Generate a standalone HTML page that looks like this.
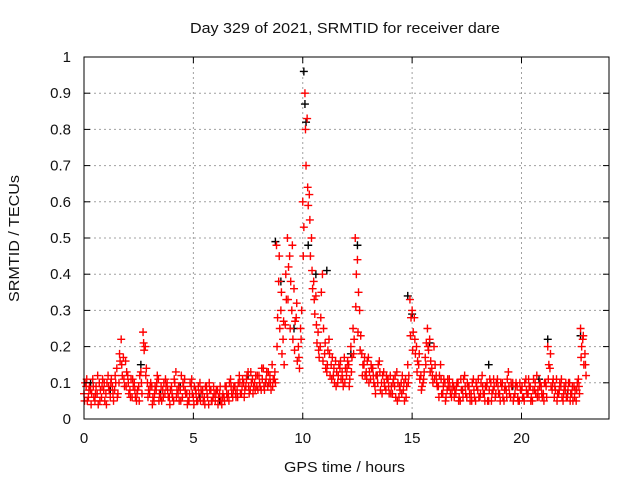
<!DOCTYPE html>
<html><head><meta charset="utf-8"><style>
body{margin:0;background:#fff}
svg text{font-family:"Liberation Sans",sans-serif;fill:#111}
</style></head><body>
<svg id="c" width="640" height="480" xmlns="http://www.w3.org/2000/svg">
<text x="190" y="33" font-size="15" textLength="310" lengthAdjust="spacingAndGlyphs">Day 329 of 2021, SRMTID for receiver dare</text>
<text x="284" y="472" font-size="15" textLength="121" lengthAdjust="spacingAndGlyphs">GPS time / hours</text>
<text transform="translate(19,302) rotate(-90)" font-size="15" textLength="127" lengthAdjust="spacingAndGlyphs">SRMTID / TECUs</text>
<g id="grid"></g><g id="marks"></g><g id="axes"></g>
</svg>
<script>
const xTicks=[0,5,10,15,20];
const yTicks=[0,0.1,0.2,0.3,0.4,0.5,0.6,0.7,0.8,0.9,1];
const yTickLabels=["0","0.1","0.2","0.3","0.4","0.5","0.6","0.7","0.8","0.9","1"];
const redStep=0.1;
const redValues=[.07,.09,.06,.08,.11,.05,.07,.10,.06,.08,
.07,.12,.06,.09,.08,.14,.10,.22,.17,.16,
.12,.08,.06,.10,.05,.09,.13,.24,.20,.10,
.07,.09,.05,.08,.11,.06,.08,.07,.10,.06,
.09,.05,.13,.07,.08,.06,.11,.07,.05,.09,
.06,.08,.05,.10,.07,.06,.09,.04,.08,.06,
.05,.08,.07,.04,.06,.09,.07,.11,.06,.09,
.08,.12,.07,.10,.09,.13,.08,.11,.10,.09,
.12,.08,.14,.10,.09,.12,.15,.11,.48,.38,
.30,.22,.26,.50,.45,.30,.36,.28,.20,.25,
.60,.90,.83,.62,.50,.38,.34,.24,.20,.40,
.18,.13,.22,.15,.12,.16,.10,.14,.13,.17,
.12,.15,.20,.25,.50,.44,.30,.18,.15,.13,
.17,.11,.14,.09,.12,.16,.10,.13,.08,.11,
.12,.07,.09,.13,.06,.10,.08,.11,.15,.33,
.30,.28,.20,.15,.12,.10,.17,.25,.22,.14,
.20,.12,.09,.15,.07,.10,.08,.11,.06,.09,
.07,.10,.05,.08,.12,.06,.09,.07,.11,.05,
.08,.06,.12,.07,.09,.05,.10,.08,.06,.11,
.07,.09,.05,.08,.13,.06,.10,.07,.09,.05,
.08,.06,.11,.07,.09,.05,.08,.12,.06,.09,
.07,.10,.20,.14,.08,.06,.11,.07,.09,.05,
.08,.06,.10,.07,.09,.05,.11,.25,.22,.18];
const redValuesB=[.10,.05,.09,.07,.06,.09,.04,.08,.11,.05,
.10,.08,.11,.05,.10,.07,.16,.12,.09,.13,
.07,.11,.09,.06,.08,.12,.07,.19,.14,.08,
.10,.06,.09,.12,.07,.05,.10,.09,.06,.08,
.06,.10,.08,.05,.12,.09,.07,.05,.10,.07,
.09,.05,.07,.08,.05,.09,.06,.08,.05,.07,
.08,.06,.05,.07,.09,.06,.10,.07,.09,.06,
.10,.07,.11,.08,.12,.07,.10,.09,.12,.08,
.09,.11,.08,.13,.10,.08,.11,.10,.28,.25,
.18,.15,.33,.42,.38,.22,.27,.16,.14,.30,
.53,.70,.59,.45,.36,.29,.21,.17,.35,.25,
.14,.19,.12,.17,.10,.13,.15,.11,.09,.14,
.16,.11,.17,.22,.40,.35,.23,.15,.12,.16,
.13,.14,.10,.12,.15,.08,.12,.09,.11,.07,
.09,.11,.06,.10,.08,.12,.05,.09,.12,.28,
.24,.18,.16,.11,.09,.13,.21,.19,.16,.10,
.15,.09,.12,.07,.11,.06,.09,.07,.10,.08,
.10,.06,.08,.11,.07,.09,.05,.10,.06,.09,
.06,.10,.07,.09,.05,.11,.07,.09,.10,.07,
.10,.06,.09,.11,.07,.09,.06,.10,.05,.08,
.06,.10,.07,.09,.06,.11,.07,.08,.10,.06,
.10,.06,.15,.09,.11,.08,.07,.10,.06,.09,
.06,.10,.07,.05,.08,.10,.07,.20,.15,.12];
const redValuesC=[.05,.11,.08,.04,.09,.07,.12,.05,.09,.10,
.04,.09,.10,.07,.12,.06,.18,.15,.11,.09,
.10,.06,.11,.08,.07,.05,.10,.21,.12,.06,
.09,.04,.07,.10,.05,.09,.06,.11,.08,.04,
.07,.11,.06,.09,.05,.10,.08,.04,.07,.11,
.04,.07,.09,.05,.08,.04,.07,.10,.05,.09,
.07,.04,.09,.06,.05,.07,.05,.09,.08,.07,
.06,.10,.09,.06,.11,.09,.13,.07,.08,.12,
.10,.14,.09,.11,.13,.10,.09,.13,.20,.45,
.35,.27,.40,.33,.25,.48,.19,.32,.17,.22,
.45,.80,.64,.55,.41,.33,.26,.19,.28,.16,
.21,.15,.18,.11,.14,.09,.12,.16,.11,.10,
.14,.09,.13,.18,.31,.24,.19,.12,.17,.11,
.10,.15,.12,.07,.10,.13,.07,.10,.12,.09,
.07,.10,.12,.05,.09,.07,.10,.06,.10,.23,
.19,.22,.13,.18,.08,.11,.15,.20,.13,.12,
.11,.10,.06,.11,.09,.05,.11,.09,.08,.06,
.09,.05,.11,.06,.09,.10,.07,.05,.08,.10,
.11,.07,.09,.05,.10,.08,.05,.11,.07,.09,
.05,.10,.08,.06,.09,.10,.05,.09,.06,.10,
.09,.05,.08,.11,.05,.08,.10,.06,.09,.07,
.05,.09,.11,.18,.10,.09,.05,.08,.11,.07,
.10,.08,.05,.09,.06,.08,.09,.17,.23,.15];
const blackHours=[0.3,1.2,2.6,3.5,4.4,5.3,6.2,7.5,8.3,8.75,9.0,9.6,10.05,10.1,10.15,10.25,10.6,11.1,12.2,12.5,13.4,14.8,15.0,15.8,17.3,18.5,19.6,20.8,21.2,22.1,22.7];
const blackValues=[.10,.08,.15,.07,.09,.06,.05,.12,.10,.49,.38,.25,.96,.87,.82,.48,.40,.41,.18,.48,.12,.34,.29,.21,.08,.15,.09,.11,.22,.07,.23];
const X0=84,X1=609,Y0=419,Y1=57,XMAX=24;
const xs=h=>X0+h/XMAX*(X1-X0), ys=v=>Y0-v*(Y0-Y1);
const NS="http://www.w3.org/2000/svg";
function mk(t,a,p){const e=document.createElementNS(NS,t);for(const k in a)e.setAttribute(k,a[k]);p.appendChild(e);return e;}
const grid=document.getElementById('grid'),marks=document.getElementById('marks'),axes=document.getElementById('axes');
xTicks.forEach(t=>{const x=xs(t);
 if(t>0){const g=mk('line',{x1:x,x2:x,y1:Y1,y2:Y0,stroke:'#a0a0a0','stroke-dasharray':'2,3'},grid);
 
 }
 mk('line',{x1:x,x2:x,y1:Y0,y2:Y0-6,stroke:'#000'},axes);mk('line',{x1:x,x2:x,y1:Y1,y2:Y1+6,stroke:'#000'},axes);
 const l=mk('text',{x:x,y:Y0+24,'font-size':15,'text-anchor':'middle'},axes);l.textContent=t;
 
 });
yTicks.forEach((t,i)=>{const y=ys(t);
 if(t>0&&t<1){const g=mk('line',{x1:X0,x2:X1,y1:y,y2:y,stroke:'#a0a0a0','stroke-dasharray':'2,3'},grid);
 
 }
 mk('line',{x1:X0,x2:X0+6,y1:y,y2:y,stroke:'#000'},axes);mk('line',{x1:X1,x2:X1-6,y1:y,y2:y,stroke:'#000'},axes);
 const l=mk('text',{x:X0-13,y:y+5,'font-size':15,'text-anchor':'end'},axes);l.textContent=yTickLabels[i];
 
 });
const fr=mk('rect',{x:X0,y:Y1,width:X1-X0,height:Y0-Y1,fill:'none',stroke:'#000','stroke-width':1},axes);


function plus(h,v,col){const x=xs(h),y=ys(v);
 const p=mk('path',{d:`M${x-4},${y}h8M${x},${y-4}v8`,stroke:col,'stroke-width':1.4,fill:'none'},marks);
 
 }
blackValues.forEach((v,i)=>plus(blackHours[i],v,'#000'));
redValues.forEach((v,i)=>plus(i*redStep,v,'#f00'));
redValuesB.forEach((v,i)=>plus(i*redStep+redStep/2,v,'#f00'));
redValuesC.forEach((v,i)=>plus(i*redStep+redStep/4,v,'#f00'));
</script>
</body></html>
